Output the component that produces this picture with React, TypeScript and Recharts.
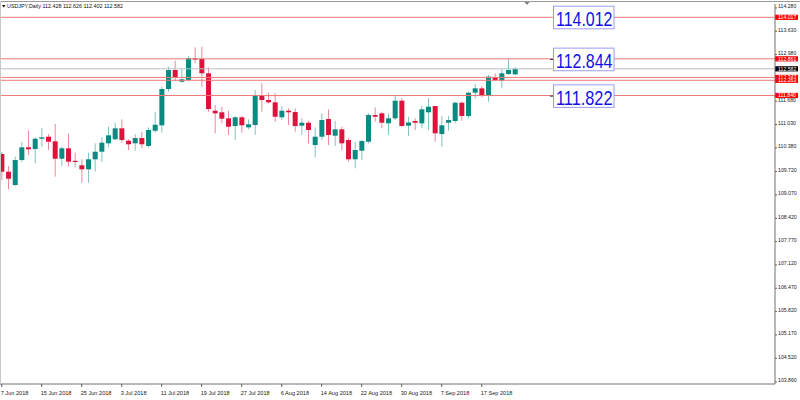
import React from 'react';
import { ComposedChart, Bar, XAxis, YAxis, ReferenceLine, ReferenceDot } from 'recharts';

// ---- data ----
const dateLabels = ['7 Jun 2018', '15 Jun 2018', '25 Jun 2018', '3 Jul 2018', '11 Jul 2018', '19 Jul 2018', '27 Jul 2018', '6 Aug 2018', '14 Aug 2018', '22 Aug 2018', '30 Aug 2018', '7 Sep 2018', '17 Sep 2018'];
const dateLabelIdx = [0, 6, 12, 18, 24, 30, 36, 42, 48, 54, 60, 66, 72];

const opens = [
  110.209, 109.716, 109.346, 110.042, 110.396, 110.349, 110.635, 110.691, 110.563, 110.078,
  110.368, 110.020, 109.895, 109.783, 110.062, 110.273, 110.507, 110.619, 110.925, 110.580,
  110.507, 110.655, 110.432, 110.858, 111.009, 112.020, 112.549, 112.223, 112.271, 112.875,
  112.856, 112.457, 111.415, 111.371, 111.204, 110.989, 111.232, 110.953, 111.017, 111.853,
  111.714, 111.649, 111.232, 111.415, 111.379, 110.998, 111.081, 110.460, 110.691, 111.184,
  110.719, 110.897, 110.599, 110.062, 110.301, 110.552, 111.296, 111.343, 111.064, 111.204,
  111.694, 110.998, 111.129, 111.064, 111.371, 111.546, 110.766, 111.081, 111.129, 111.638,
  111.268, 111.917, 112.039, 111.833, 112.346, 112.251, 112.438, 112.428,
];
const highs = [
  110.265, 109.875, 110.134, 110.544, 110.858, 110.674, 110.934, 110.766, 111.045, 110.413,
  110.786, 110.246, 110.062, 110.246, 110.507, 110.674, 110.970, 111.081, 111.176, 110.619,
  110.766, 110.822, 110.953, 111.379, 112.084, 112.641, 112.808, 112.569, 112.939, 113.181,
  113.198, 112.624, 111.574, 111.527, 111.415, 111.268, 111.268, 111.176, 111.992, 112.179,
  111.917, 111.900, 111.546, 111.482, 111.482, 111.204, 111.137, 110.953, 111.343, 111.454,
  111.137, 110.970, 110.647, 110.552, 110.599, 111.343, 111.510, 111.388, 111.343, 111.853,
  111.761, 111.248, 111.204, 111.546, 111.761, 111.546, 111.268, 111.268, 111.666, 111.666,
  111.945, 112.159, 112.103, 112.410, 112.457, 112.569, 112.861, 112.626,
];
const lows = [
  109.485, 109.226, 109.318, 109.986, 110.181, 109.950, 110.413, 110.321, 109.577, 109.875,
  109.856, 109.839, 109.410, 109.410, 109.716, 109.995, 110.396, 110.599, 110.524, 110.321,
  110.301, 110.368, 110.385, 110.803, 110.803, 111.945, 112.251, 112.195, 112.223, 112.736,
  112.084, 111.388, 110.786, 111.064, 110.739, 110.599, 110.803, 110.897, 110.739, 111.388,
  111.622, 111.109, 111.156, 111.017, 110.831, 110.739, 110.507, 110.117, 110.599, 110.460,
  110.432, 110.321, 109.995, 109.811, 110.042, 110.507, 111.109, 110.925, 110.739, 111.156,
  110.970, 110.711, 110.878, 110.925, 110.878, 110.552, 110.413, 110.858, 111.064, 111.137,
  111.204, 111.761, 111.789, 111.666, 112.251, 112.039, 112.410, 112.402,
];
const closes = [
  109.716, 109.521, 110.042, 110.396, 110.340, 110.635, 110.674, 110.552, 110.078, 110.368,
  109.995, 110.001, 109.783, 110.062, 110.273, 110.524, 110.730, 110.925, 110.599, 110.480,
  110.655, 110.480, 110.878, 111.025, 112.020, 112.549, 112.335, 112.290, 112.875, 112.856,
  112.457, 111.463, 111.343, 111.193, 110.970, 111.232, 111.009, 111.037, 111.853, 111.714,
  111.649, 111.248, 111.415, 111.371, 110.989, 111.081, 110.878, 110.691, 111.156, 110.739,
  110.897, 110.507, 110.062, 110.321, 110.571, 111.296, 111.248, 111.081, 111.204, 111.694,
  110.989, 111.087, 111.081, 111.454, 111.527, 110.786, 111.009, 111.156, 111.638, 111.268,
  111.917, 112.039, 111.833, 112.363, 112.271, 112.457, 112.549, 112.582,
];

const priceTicks = [114.28, 113.63, 112.98, 112.33, 111.68, 111.03, 110.38, 109.72, 109.07, 108.42, 107.77, 107.12, 106.47, 105.82, 105.17, 104.52, 103.86];
const redLevels = [114.017, 112.861, 112.343, 112.263, 111.840];
const currentPrice = 112.582;
const boxValues = [114.012, 112.844, 111.822];
const boxAnchorIdx = 82.7;
const headerText = 'USDJPY,Daily  112.428 112.626 112.402 112.582';

const data = opens.map((o, i) => ({
  idx: i,
  open: o,
  high: highs[i],
  low: lows[i],
  close: closes[i],
  range: [lows[i], highs[i]],
}));

const TEAL = '#0a8a80';
const RED = '#dc143c';
const FONT = "'Liberation Sans', Arial, sans-serif";

const Candle = (props: any) => {
  const { x, y, width, height, payload } = props;
  if (x == null || payload == null) return null;
  const top = Math.min(y, y + height);
  const h = Math.abs(height);
  const { open, close, high, low } = payload;
  const k = high !== low ? h / (high - low) : 0;
  const yOf = (p: number) => top + (high - p) * k;
  const up = close >= open;
  const color = up ? TEAL : RED;
  const cx = x + width / 2;
  const bTop = yOf(Math.max(open, close));
  const bBot = yOf(Math.min(open, close));
  const bh = Math.max(bBot - bTop, 1.2);
  return (
    <g>
      <rect x={cx - 0.5} y={top} width={1} height={h} fill={color} fillOpacity={0.5} />
      <rect x={cx - 2.5} y={bTop} width={5} height={bh} fill={color} />
    </g>
  );
};

const XTick = (props: any) => {
  const { x, y, payload } = props;
  const i = dateLabelIdx.indexOf(payload.value);
  return (
    <g>
      <line x1={x} x2={x} y1={y} y2={y + 3} stroke="#606060" strokeWidth={1} />
      <text x={x - 1} y={y + 11} fontSize={5.6} fontFamily={FONT} fill="#222" textAnchor="start">
        {i >= 0 ? dateLabels[i] : ''}
      </text>
    </g>
  );
};

// tick labels that sit under a price tag are covered in the reference
const isCovered = (v: number) =>
  [...redLevels, currentPrice].some((lv) => Math.abs(lv - v) < 0.1);

const YTick = (props: any) => {
  const { x, y, payload } = props;
  const v = Number(payload.value);
  return (
    <g>
      <line x1={x} x2={x + 2} y1={y} y2={y} stroke="#606060" strokeWidth={1} />
      {!isCovered(v) && (
        <text x={x + 3} y={y + 0.5} fontSize={5.2} fontFamily={FONT} fill="#222" textAnchor="start">
          {v.toFixed(3)}
        </text>
      )}
    </g>
  );
};

const PriceTag = (props: any) => {
  const { viewBox, value, bg } = props;
  if (!viewBox) return null;
  const x = viewBox.x + viewBox.width;
  const y = viewBox.y;
  return (
    <g>
      <rect x={x} y={y - 2.6} width={23} height={5.2} fill={bg} />
      <text x={x + 3} y={y + 2} fontSize={5.2} fontFamily={FONT} fill="#fff" textAnchor="start">
        {value.toFixed(3)}
      </text>
    </g>
  );
};

const TextBox = (props: any) => {
  const { cx, cy, value, tick } = props;
  if (cx == null || cy == null) return null;
  return (
    <g>
      {tick && <line x1={cx - 3} x2={cx} y1={cy} y2={cy} stroke="#402050" strokeWidth={1} />}
      <rect x={cx + 0.5} y={cy - 11.3} width={60.5} height={22.6} fill="#fff" stroke="#9c9cf4" strokeWidth={1} />
      <text
        x={cx + 3}
        y={cy + 8.6}
        fontSize={21}
        fontFamily={FONT}
        fill="#1010e6"
        textLength={56.5}
        lengthAdjust="spacingAndGlyphs"
      >
        {value.toFixed(3)}
      </text>
    </g>
  );
};

export default function App() {
  return (
    <div style={{ position: 'absolute', left: 0, top: 0, width: 800, height: 400, background: '#fff' }}>
      <ComposedChart width={800} height={400} data={data} margin={{ top: 4, right: 0, bottom: 0, left: 0 }}>
        <XAxis
          type="number"
          dataKey="idx"
          domain={[-0.255, 116]}
          allowDataOverflow
          ticks={dateLabelIdx}
          interval={0}
          height={16}
          tickSize={0}
          tickMargin={0}
          tickLine={false}
          axisLine={{ stroke: '#707070' }}
          tick={<XTick />}
        />
        <YAxis
          orientation="right"
          domain={[103.803, 114.388]}
          allowDataOverflow
          ticks={priceTicks}
          interval={0}
          width={25}
          tickSize={0}
          tickMargin={0}
          tickLine={false}
          axisLine={{ stroke: '#707070' }}
          tick={<YTick />}
        />
        <ReferenceLine
          y={currentPrice}
          stroke="#b9c0cc"
          strokeWidth={1}
          label={(p: any) => <PriceTag {...p} value={currentPrice} bg="#000" />}
        />
        {redLevels.map((v) => (
          <ReferenceLine
            key={v}
            y={v}
            stroke="#f07878"
            strokeWidth={1}
            label={(p: any) => <PriceTag {...p} value={v} bg="#ff0000" />}
          />
        ))}
        <Bar dataKey="range" barSize={5} shape={<Candle />} isAnimationActive={false} />
        {boxValues.map((v, i) => (
          <ReferenceDot
            key={v}
            x={boxAnchorIdx}
            y={v}
            r={0}
            shape={(p: any) => <TextBox {...p} value={v} tick={i > 0} />}
          />
        ))}
      </ComposedChart>
      <svg width={800} height={400} style={{ position: 'absolute', left: 0, top: 0, pointerEvents: 'none' }}>
        <line x1={0} x2={800} y1={1.5} y2={1.5} stroke="#9a9a9a" strokeWidth={1} />
        <line x1={0.5} x2={0.5} y1={1} y2={384} stroke="#c8c8c8" strokeWidth={1} />
        <path d="M524.5 2 L529.5 2 L527 5 Z" fill="#808080" />
        <path d="M2 5 L5.5 5 L3.75 7.5 Z" fill="#111" />
        <text x={7} y={8.2} fontSize={5.6} fontFamily={FONT} fill="#111" textLength={116} lengthAdjust="spacingAndGlyphs">
          {headerText}
        </text>
      </svg>
    </div>
  );
}
